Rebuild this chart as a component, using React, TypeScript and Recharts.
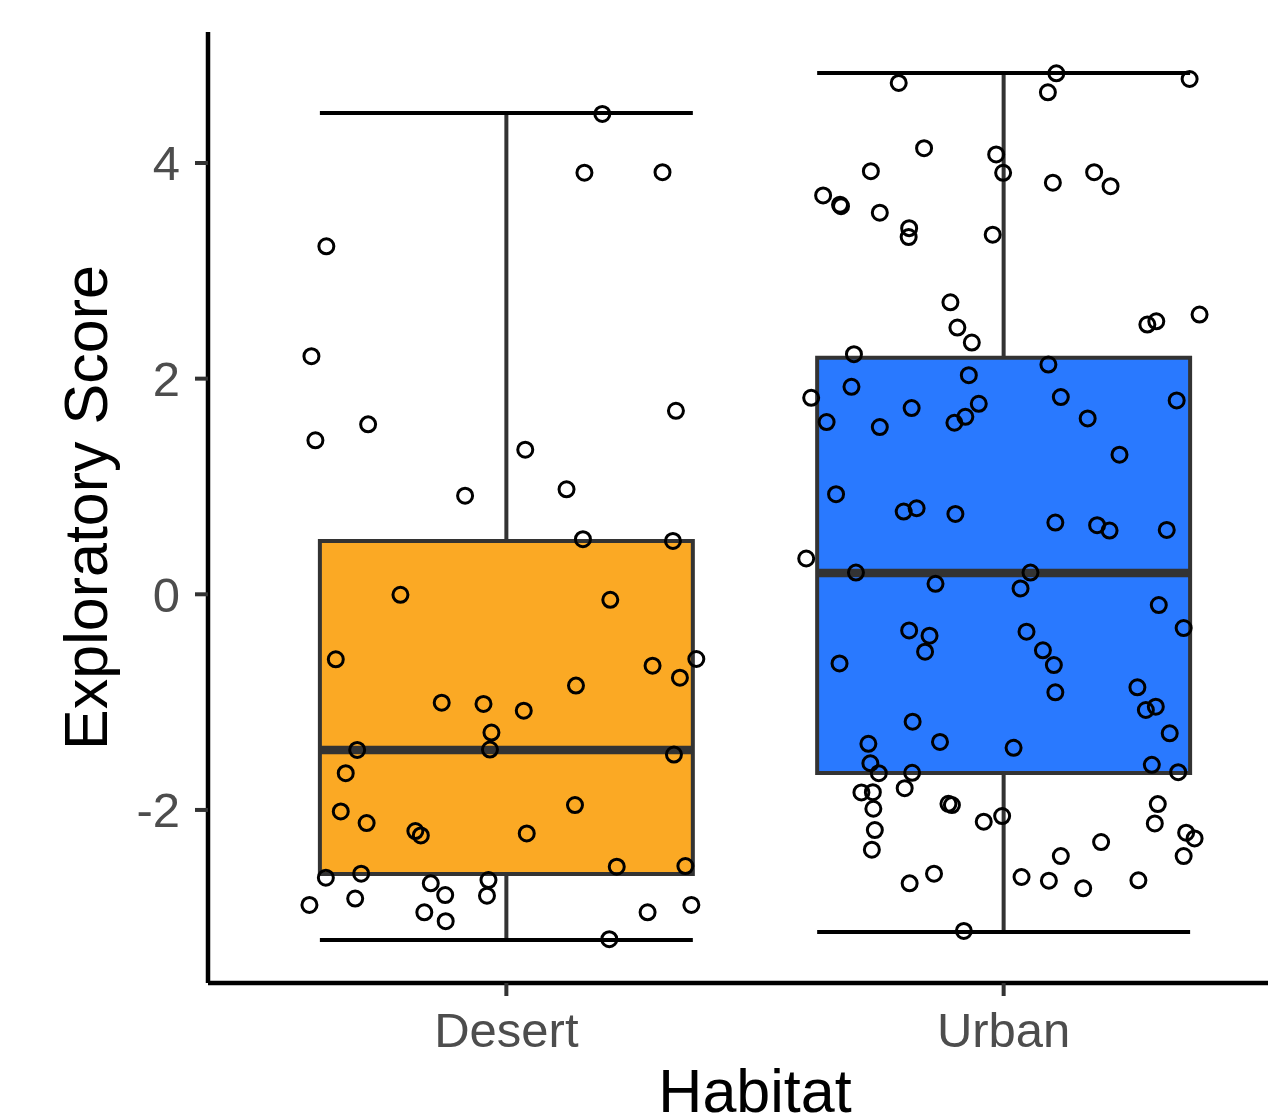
import React from 'react';
import { ScatterChart, Scatter, XAxis, YAxis, ReferenceArea, ReferenceLine } from 'recharts';

// Categories and their positions on the discrete axis
const categories = ['Desert', 'Urban'];
const categoryPositions = [1, 2];
const boxFills = ['#FBA924', '#2979FF'];

// Box statistics
const lowerWhisker = [-3.206, -3.131];
const q1 = [-2.594, -1.658];
const medians = [-1.443, 0.197];
const q3 = [0.494, 2.193];
const upperWhisker = [4.463, 4.835];

const yTicks = [-2, 0, 2, 4];

// Jittered observations (score and horizontal jitter in category units)
const desertScores = [
  4.455, 3.91, 3.915, 3.227, 2.208, 1.576, 1.428, 1.702, 1.341, 0.974, 0.915, 0.511, 0.495, -0.005, -0.051,
  -0.603, -0.6, -0.662, -0.773, -0.847, -1.005, -1.017, -1.079, -1.282, -1.443, -1.44, -1.486, -1.659, -2.014,
  -1.955, -2.122, -2.196, -2.236, -2.218, -2.526, -2.52, -2.628, -2.591, -2.681, -2.65, -2.789, -2.795, -2.881,
  -2.822, -2.949, -3.032, -2.949, -2.881, -3.199,
];
const desertJitter = [
  0.193, 0.157, 0.314, -0.362, -0.392, -0.278, -0.384, 0.341, 0.038, 0.121, -0.083, 0.154, 0.335, -0.213, 0.209,
  -0.343, 0.382, 0.294, 0.349, 0.14, -0.13, -0.046, 0.035, -0.03, -0.3, -0.033, 0.337, -0.323, -0.333,
  0.138, -0.281, -0.183, -0.172, 0.041, 0.222, 0.36, -0.363, -0.292, -0.152, -0.036, -0.123, -0.039, -0.396,
  -0.304, -0.165, -0.122, 0.284, 0.372, 0.207,
];
const urbanScores = [
  4.743, 4.832, 4.656, 4.779, 4.137, 4.079, 3.909, 3.924, 3.817, 3.915, 3.785, 3.699, 3.613, 3.6, 3.539, 3.396,
  3.313, 3.335, 2.708, 2.474, 2.335, 2.502, 2.532, 2.594, 2.227, 2.131, 2.032, 1.924, 1.822, 1.597, 1.551, 1.727,
  1.767, 1.646, 1.591, 1.829, 1.798, 1.631, 1.295, 0.928, 0.767, 0.798, 0.745, 0.665, 0.641, 0.591, 0.597, 0.332,
  0.202, 0.202, 0.097, 0.054, -0.1, -0.313, -0.335, -0.384, -0.347, -0.532, -0.641, -0.52, -0.656, -0.909, -0.863,
  -1.042, -1.073, -1.289, -1.181, -1.369, -1.387, -1.424, -1.567, -1.659, -1.656, -1.582, -1.65, -1.838, -1.835,
  -1.798, -1.989, -1.943, -1.955, -1.946, -2.109, -2.057, -2.125, -2.187, -2.211, -2.264, -2.298, -2.369, -2.428,
  -2.428, -2.591, -2.681, -2.622, -2.656, -2.727, -2.653, -3.122,
];
const urbanJitter = [
  -0.211, 0.106, 0.089, 0.374, -0.16, -0.015, -0.001, -0.267, 0.099, 0.182, 0.215, -0.363, -0.329, -0.327, -0.249, -0.19,
  -0.191, -0.022, -0.107, -0.093, -0.064, 0.289, 0.307, 0.394, -0.301, 0.09, -0.07, -0.306, -0.387, -0.356, -0.249, -0.185,
  -0.05, -0.077, -0.099, 0.115, 0.348, 0.169, 0.233, -0.337, -0.201, -0.175, -0.097, 0.104, 0.188, 0.213, 0.328, -0.397,
  -0.297, 0.054, -0.137, 0.034, 0.312, 0.362, -0.19, -0.149, 0.046, -0.158, -0.33, 0.079, 0.101, 0.104, 0.269,
  0.306, 0.286, 0.334, -0.183, -0.128, -0.272, 0.02, -0.268, -0.251, -0.184, 0.298, 0.351, -0.286, -0.263,
  -0.199, -0.262, -0.111, -0.104, 0.31, -0.04, -0.003, 0.304, -0.259, 0.367, 0.384, 0.196, -0.265, 0.115,
  0.362, -0.14, -0.189, 0.036, 0.091, 0.16, 0.271, -0.08,
];

const desertPoints = desertScores.map((y, i) => ({ x: categoryPositions[0] + desertJitter[i], y }));
const urbanPoints = urbanScores.map((y, i) => ({ x: categoryPositions[1] + urbanJitter[i], y }));

const BOX_HALF = 0.375;
const FONT = '"Liberation Sans", Arial, Helvetica, sans-serif';

const Ring = (props: any) => {
  const { cx, cy } = props;
  if (cx == null || cy == null) return null;
  return <circle cx={cx} cy={cy} r={7.5} fill="none" stroke="#000000" strokeWidth={3} />;
};

const YTitle = (props: any) => {
  const vb = props.viewBox || { x: 0, y: 32, width: 208, height: 951 };
  const cx = vb.x + 107;
  const cy = vb.y + vb.height / 2;
  return (
    <text
      x={cx}
      y={cy}
      transform={`rotate(-90, ${cx}, ${cy})`}
      textAnchor="middle"
      fontSize={61}
      fontFamily={FONT}
      fill="#000000"
    >
      Exploratory Score
    </text>
  );
};

const XTitle = (props: any) => {
  const vb = props.viewBox || { x: 208, y: 983, width: 1094, height: 136 };
  const cx = vb.x + vb.width / 2;
  const cy = vb.y + 129;
  return (
    <text x={cx} y={cy} textAnchor="middle" fontSize={61} fontFamily={FONT} fill="#000000">
      Habitat
    </text>
  );
};

export default function App() {
  return (
    <div
      style={{
        position: 'absolute',
        left: 0,
        top: 0,
        width: 1268,
        height: 1119,
        overflow: 'hidden',
        background: '#ffffff',
      }}
    >
      <ScatterChart width={1310} height={1119} margin={{ top: 32, right: 8, bottom: 0, left: 0 }}>
        <XAxis
          type="number"
          dataKey="x"
          domain={[0.4, 2.6]}
          allowDataOverflow
          ticks={categoryPositions}
          tickFormatter={(v: number) => categories[categoryPositions.indexOf(v)] ?? ''}
          height={136}
          tickSize={13}
          tickMargin={16}
          axisLine={{ stroke: '#000000', strokeWidth: 4.5 }}
          tickLine={{ stroke: '#333333', strokeWidth: 4 }}
          tick={{ fill: '#4D4D4D', fontSize: 49, fontFamily: FONT }}
          label={{ content: XTitle }}
        />
        <YAxis
          type="number"
          dataKey="y"
          domain={[-3.605, 5.215]}
          allowDataOverflow
          ticks={yTicks}
          width={208}
          tickSize={13}
          tickMargin={15}
          axisLine={{ stroke: '#000000', strokeWidth: 4.5 }}
          tickLine={{ stroke: '#333333', strokeWidth: 4 }}
          tick={{ fill: '#4D4D4D', fontSize: 49, fontFamily: FONT }}
          label={{ content: YTitle }}
        />
        {categoryPositions.map((c, i) => (
          <ReferenceArea
            key={`box-${i}`}
            x1={c - BOX_HALF}
            x2={c + BOX_HALF}
            y1={q1[i]}
            y2={q3[i]}
            fill={boxFills[i]}
            fillOpacity={1}
            stroke="#333333"
            strokeWidth={4}
            ifOverflow="visible"
          />
        ))}
        {categoryPositions.map((c, i) => (
          <ReferenceLine
            key={`wu-${i}`}
            segment={[{ x: c, y: q3[i] }, { x: c, y: upperWhisker[i] }]}
            stroke="#333333"
            strokeWidth={4}
            ifOverflow="visible"
          />
        ))}
        {categoryPositions.map((c, i) => (
          <ReferenceLine
            key={`wl-${i}`}
            segment={[{ x: c, y: lowerWhisker[i] }, { x: c, y: q1[i] }]}
            stroke="#333333"
            strokeWidth={4}
            ifOverflow="visible"
          />
        ))}
        {categoryPositions.map((c, i) => (
          <ReferenceLine
            key={`cu-${i}`}
            segment={[{ x: c - BOX_HALF, y: upperWhisker[i] }, { x: c + BOX_HALF, y: upperWhisker[i] }]}
            stroke="#000000"
            strokeWidth={4}
            ifOverflow="visible"
          />
        ))}
        {categoryPositions.map((c, i) => (
          <ReferenceLine
            key={`cl-${i}`}
            segment={[{ x: c - BOX_HALF, y: lowerWhisker[i] }, { x: c + BOX_HALF, y: lowerWhisker[i] }]}
            stroke="#000000"
            strokeWidth={4}
            ifOverflow="visible"
          />
        ))}
        {categoryPositions.map((c, i) => (
          <ReferenceLine
            key={`med-${i}`}
            segment={[{ x: c - BOX_HALF, y: medians[i] }, { x: c + BOX_HALF, y: medians[i] }]}
            stroke="#333333"
            strokeWidth={8.5}
            ifOverflow="visible"
          />
        ))}
        <Scatter name="Desert" data={desertPoints} shape={Ring} isAnimationActive={false} />
        <Scatter name="Urban" data={urbanPoints} shape={Ring} isAnimationActive={false} />
      </ScatterChart>
    </div>
  );
}
